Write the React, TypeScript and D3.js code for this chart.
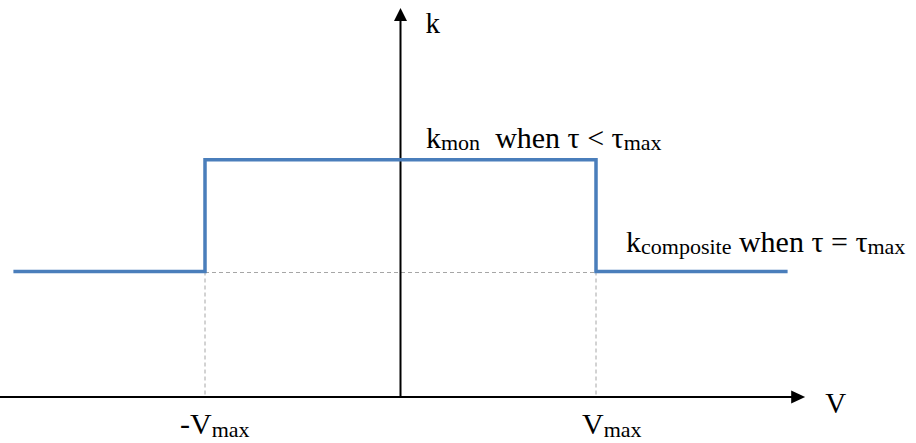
import React from "react";
import * as d3 from "d3";

// Step profile of k against V (units: V in Vmax, k in k_composite)
const stepV = [-1.98, -1, -1, 1, 1, 1.98];
const stepK = [1, 1, 1.89, 1.89, 1, 1];
const vTicks = [-1, 1];
const vTickLabels = ["-V", "V"];
const axisRangeV = [-2.05, 2.07];
const axisRangeK = [0, 3.1];

const W = 916;
const H = 443;
const FONT = "Liberation Serif, Times New Roman, DejaVu Serif, serif";

export default function App() {
  const x = d3.scaleLinear().domain([-1, 1]).range([205, 596]);
  const y = d3.scaleLinear().domain([0, 1]).range([397, 271.5]);

  const pts: [number, number][] = stepV.map((v, i) => [x(v), y(stepK[i])]);
  const line = d3.line()(pts) as string;

  const x0 = x(axisRangeV[0]);
  const x1 = x(axisRangeV[1]);
  const yTop = y(axisRangeK[1]);
  const yBase = y(0);
  const xOrig = x(0);

  return (
    <svg
      width={W}
      height={H}
      style={{ position: "absolute", left: 0, top: 0, background: "#fff", fontFamily: FONT }}
    >
      {/* dashed guides */}
      <g stroke="#a6a6a6" strokeWidth={1} strokeDasharray="4,3" fill="none">
        <line x1={x(-1)} x2={x(1)} y1={y(1) + 1} y2={y(1) + 1} />
        {vTicks.map((v) => (
          <line key={v} x1={x(v)} x2={x(v)} y1={y(1)} y2={yBase} />
        ))}
      </g>
      {/* axes */}
      <g stroke="#000" strokeWidth={2}>
        <line x1={x0} x2={x1 - 10} y1={yBase} y2={yBase} />
        <line x1={xOrig} x2={xOrig} y1={yBase} y2={yTop + 10} />
      </g>
      <path
        d={`M${x1},${yBase} L${x1 - 14},${yBase - 6.5} L${x1 - 14},${yBase + 6.5} Z`}
        fill="#000"
      />
      <path
        d={`M${xOrig},${yTop} L${xOrig - 6.5},${yTop + 13} L${xOrig + 6.5},${yTop + 13} Z`}
        fill="#000"
      />
      {/* step line */}
      <path d={line} fill="none" stroke="#4a7ebb" strokeWidth={3.5} strokeLinejoin="miter" />

      {/* axis labels */}
      <text x={xOrig + 25} y={33} fontSize={29} fill="#000">k</text>
      <text x={x1 + 20} y={413} fontSize={29} fill="#000">V</text>

      {/* tick labels */}
      {vTicks.map((v, i) => (
        <text key={v} x={x(v) + (i === 0 ? -25 : -14)} y={434} fontSize={30} fill="#000">
          {vTickLabels[i]}
          <tspan fontSize={22} dy={3}>max</tspan>
        </text>
      ))}

      {/* annotations */}
      <text x={426} y={148} fontSize={30} fill="#000" xmlSpace="preserve">
        k<tspan fontSize={22} dy={2}>mon</tspan>
        <tspan dy={-2}>{"  when τ < τ"}</tspan>
        <tspan fontSize={22} dy={2}>max</tspan>
      </text>
      <text x={626} y={252} fontSize={30} fill="#000" xmlSpace="preserve">
        k<tspan fontSize={22} dy={2}>composite</tspan>
        <tspan dy={-2}>{" when τ = τ"}</tspan>
        <tspan fontSize={22} dy={2}>max</tspan>
      </text>
    </svg>
  );
}
